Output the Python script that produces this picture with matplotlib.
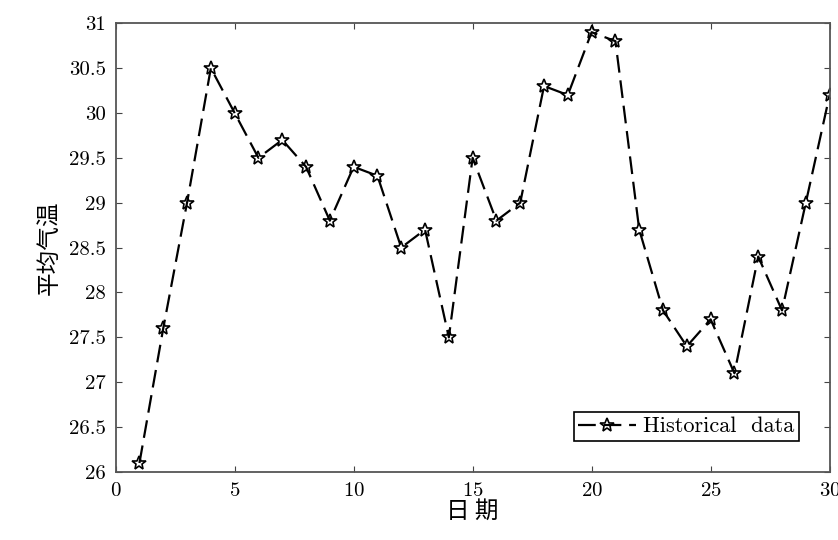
import matplotlib
matplotlib.use("Agg")
import matplotlib.pyplot as plt

days = list(range(1, 31))
temps = [26.1, 27.6, 29.0, 30.5, 30.0, 29.5, 29.7, 29.4, 28.8, 29.4,
         29.3, 28.5, 28.7, 27.5, 29.5, 28.8, 29.0, 30.3, 30.2, 30.9,
         30.8, 28.7, 27.8, 27.4, 27.7, 27.1, 28.4, 27.8, 29.0, 30.2]
yticks = [26, 26.5, 27, 27.5, 28, 28.5, 29, 29.5, 30, 30.5, 31]
ytick_labels = ["26", "26.5", "27", "27.5", "28", "28.5", "29", "29.5", "30", "30.5", "31"]
xticks = [0, 5, 10, 15, 20, 25, 30]

plt.rcParams['font.family'] = ['cmr10', 'Noto Sans CJK SC']
plt.rcParams['axes.formatter.use_mathtext'] = True

fig = plt.figure(figsize=(8.38, 5.4), dpi=100)
ax = fig.add_axes([0.138, 0.126, 0.852, 0.831])

ax.plot(days, temps, color='black', linestyle=(0, (8, 3.5)), linewidth=1.6,
        marker='*', markersize=10, markerfacecolor='none', markeredgecolor='black',
        markeredgewidth=1.2, label='Historical  data')

ax.set_xlim(0, 30)
ax.set_ylim(26, 31)
ax.set_xticks(xticks)
ax.set_yticks(yticks)
ax.set_yticklabels(ytick_labels)
ax.tick_params(direction='in', top=True, right=True, length=4, labelsize=15,
               color='#444444', pad=7)
for s in ax.spines.values():
    s.set_color('#555555')
    s.set_linewidth(1.3)

ax.set_xlabel('日 期', family=['Noto Sans CJK SC'], fontsize=17, labelpad=0)
ax.set_ylabel('平均气温', family=['Noto Sans CJK SC'], fontsize=17, labelpad=6)

leg = ax.legend(loc='lower right', fontsize=16, fancybox=False, framealpha=1,
                edgecolor='black', handlelength=2.6, handletextpad=0.3,
                borderpad=0.2, borderaxespad=1.4)
leg.get_frame().set_linewidth(1.2)

fig.savefig('out.png', dpi=100)
